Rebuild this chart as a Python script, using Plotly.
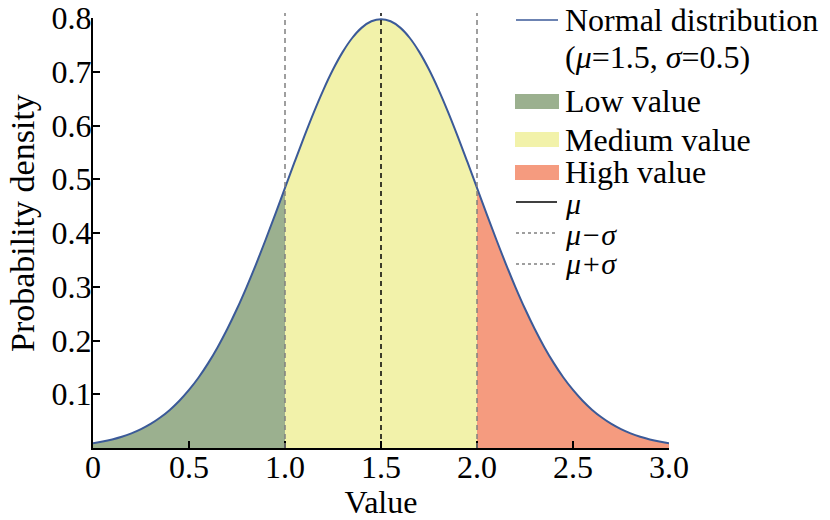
import plotly.graph_objects as go

# ---- data ----
mu = 1.5
sigma = 0.5
x_vals = [0.00, 0.05, 0.10, 0.15, 0.20, 0.25, 0.30, 0.35, 0.40, 0.45,
          0.50, 0.55, 0.60, 0.65, 0.70, 0.75, 0.80, 0.85, 0.90, 0.95,
          1.00, 1.05, 1.10, 1.15, 1.20, 1.25, 1.30, 1.35, 1.40, 1.45,
          1.50, 1.55, 1.60, 1.65, 1.70, 1.75, 1.80, 1.85, 1.90, 1.95,
          2.00, 2.05, 2.10, 2.15, 2.20, 2.25, 2.30, 2.35, 2.40, 2.45,
          2.50, 2.55, 2.60, 2.65, 2.70, 2.75, 2.80, 2.85, 2.90, 2.95, 3.00]
density = [0.0089, 0.0119, 0.0158, 0.0208, 0.0272, 0.0351, 0.0448, 0.0567, 0.0709, 0.0880,
           0.1080, 0.1312, 0.1579, 0.1881, 0.2218, 0.2590, 0.2995, 0.3427, 0.3884, 0.4357,
           0.4839, 0.5322, 0.5794, 0.6245, 0.6664, 0.7041, 0.7365, 0.7628, 0.7821, 0.7939,
           0.7979, 0.7939, 0.7821, 0.7628, 0.7365, 0.7041, 0.6664, 0.6245, 0.5794, 0.5322,
           0.4839, 0.4357, 0.3884, 0.3427, 0.2995, 0.2590, 0.2218, 0.1881, 0.1579, 0.1312,
           0.1080, 0.0880, 0.0709, 0.0567, 0.0448, 0.0351, 0.0272, 0.0208, 0.0158, 0.0119, 0.0089]
region_names = ["Low value", "Medium value", "High value"]
region_bounds = [(0.0, 1.0), (1.0, 2.0), (2.0, 3.0)]
vline_x = [mu - sigma, mu, mu + sigma]
x_tickvals = [0, 0.5, 1.0, 1.5, 2.0, 2.5, 3.0]
x_ticktext = ["0", "0.5", "1.0", "1.5", "2.0", "2.5", "3.0"]
y_tickvals = [0.1, 0.2, 0.3, 0.4, 0.5, 0.6, 0.7, 0.8]
y_ticktext = ["0.1", "0.2", "0.3", "0.4", "0.5", "0.6", "0.7", "0.8"]
x_title = "Value"
y_title = "Probability density"

# ---- styles ----
FONT = "Liberation Serif"
region_colors = ["#9bb08f", "#f2f2aa", "#f59b7f"]
curve_color = "#3b5a98"
vline_colors = ["#808080", "#000000", "#808080"]

OFF = 8  # page body margin
W, H = 830 - OFF, 520 - OFF
L, R, T, B = 93, 669, 18, 448  # plot area in page pixels


def px(xp):
    return (xp - L) / (R - L)


def py(yp):
    return (B - yp) / (B - T)


fig = go.Figure()

for name, (a, b), col in zip(region_names, region_bounds, region_colors):
    xs = [x for x in x_vals if a - 1e-9 <= x <= b + 1e-9]
    ys = [y for x, y in zip(x_vals, density) if a - 1e-9 <= x <= b + 1e-9]
    fig.add_trace(go.Scatter(x=xs, y=ys, mode="lines", fill="tozeroy",
                             fillcolor=col, line=dict(width=0, shape="spline"),
                             name=name, showlegend=False, hoverinfo="skip"))

fig.add_trace(go.Scatter(x=x_vals, y=density, mode="lines",
                         line=dict(color=curve_color, width=2, shape="spline"),
                         name="Normal distribution", showlegend=False))

shapes = []
for xv, col in zip(vline_x, vline_colors):
    shapes.append(dict(type="line", xref="x", yref="paper", x0=xv, x1=xv,
                       y0=0, y1=py(13), line=dict(color=col, width=1.5, dash="5px,4px"),
                       layer="above"))

# ---- manual legend ----
annotations = []


def leg_text(txt, ypix, xpix=563, size=32):
    annotations.append(dict(xref="paper", yref="paper", x=px(xpix), y=py(ypix),
                            xanchor="left", yanchor="middle", text=txt, showarrow=False,
                            font=dict(family=FONT, size=size, color="black")))


shapes.append(dict(type="line", xref="paper", yref="paper", x0=px(516), x1=px(558),
                   y0=py(20), y1=py(20), line=dict(color=curve_color, width=1.5)))
leg_text("Normal distribution", 20)
leg_text("(<i>μ</i>=1.5, <i>σ</i>=0.5)", 57)
box_y = [(94, 109), (132, 147), (165, 180)]
for name, col, (y0, y1) in zip(region_names, region_colors, box_y):
    shapes.append(dict(type="rect", xref="paper", yref="paper", x0=px(515), x1=px(559),
                       y0=py(y1), y1=py(y0), fillcolor=col, line=dict(width=0)))
    leg_text(name, (y0 + y1) / 2)
leg_lines = [("<i>μ</i>", "#000000", "solid", 202, 203),
             ("<i>μ−σ</i>", "#808080", "3px,3px", 233, 234),
             ("<i>μ+σ</i>", "#808080", "3px,3px", 264, 264)]
for txt, col, dash, ly, ty in leg_lines:
    shapes.append(dict(type="line", xref="paper", yref="paper", x0=px(516), x1=px(557),
                       y0=py(ly), y1=py(ly), line=dict(color=col, width=1.5, dash=dash)))
    leg_text(txt, ty, size=30)

# y-axis title (placed as rotated text so it can sit closer to the edge)
annotations.append(dict(xref="paper", yref="paper", x=px(23), y=py(223),
                        xanchor="center", yanchor="middle", textangle=-90,
                        text=y_title, showarrow=False,
                        font=dict(family=FONT, size=34, color="black")))

fig.update_layout(
    width=W, height=H,
    margin=dict(l=L - OFF, r=W - (R - OFF), t=T - OFF, b=H - (B - OFF)),
    paper_bgcolor="white", plot_bgcolor="white",
    font=dict(family=FONT, size=32, color="black"),
    showlegend=False,
    shapes=shapes,
    annotations=annotations,
    xaxis=dict(range=[0, 3], tickvals=x_tickvals, ticktext=x_ticktext,
               ticks="inside", ticklen=7, tickwidth=1.5, tickcolor="black",
               showline=True, linewidth=2, linecolor="black", showgrid=False,
               zeroline=False, tickfont=dict(family=FONT, size=32), automargin=False,
               ticklabelstandoff=-10, ticklabeloverflow="allow",
               title=dict(text=x_title, font=dict(family=FONT, size=32), standoff=0)),
    yaxis=dict(range=[0, 0.8], tickvals=y_tickvals, ticktext=y_ticktext,
               ticks="inside", ticklen=7, tickwidth=1.5, tickcolor="black",
               showline=True, linewidth=2, linecolor="black", showgrid=False,
               zeroline=False, tickfont=dict(family=FONT, size=32), automargin=False,
               ticklabelstandoff=-7, ticklabeloverflow="allow"),
)

fig.write_html("out.html")
